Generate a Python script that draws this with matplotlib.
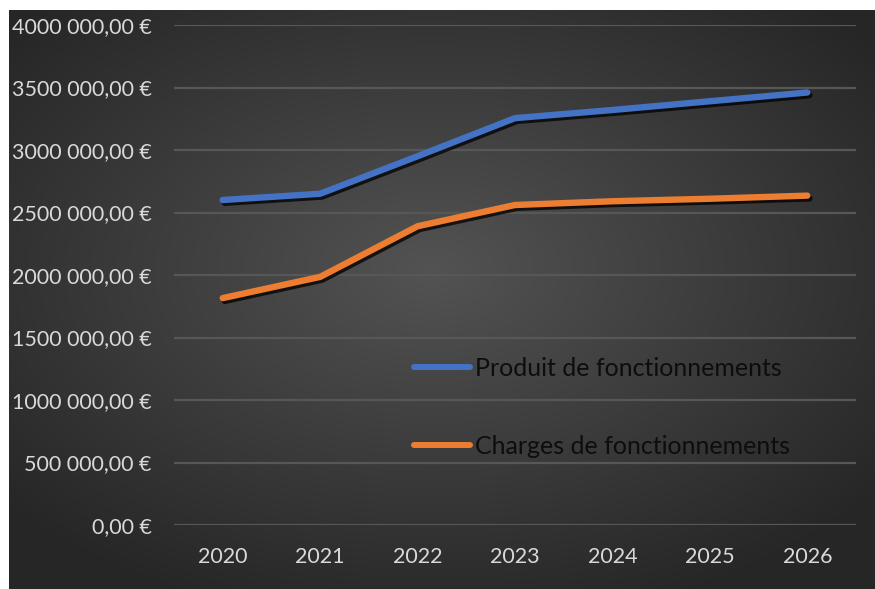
import numpy as np
import matplotlib
matplotlib.use("Agg")
import matplotlib.pyplot as plt
import matplotlib.patheffects as pe
from matplotlib.lines import Line2D
from matplotlib.ticker import FuncFormatter

years = ["2020", "2021", "2022", "2023", "2024", "2025", "2026"]
produits = [2600000, 2650000, 2950000, 3255000, 3320000, 3390000, 3460000]
charges = [1815000, 1985000, 2390000, 2560000, 2590000, 2610000, 2635000]
series_names = ["Produit de fonctionnements", "Charges de fonctionnements"]
y_ticks = [0, 500000, 1000000, 1500000, 2000000, 2500000, 3000000, 3500000, 4000000]

BLUE = "#4472C4"
ORANGE = "#ED7D31"
W, H = 875, 589

plt.rcParams["font.family"] = ["Lato", "DejaVu Sans"]

fig = plt.figure(figsize=(W / 100, H / 100), dpi=100)
fig.patch.set_facecolor("white")

# dark radial-gradient backdrop for the chart area
bg = fig.add_axes([9 / W, 0, 1 - 9 / W, 1 - 10 / H])
gx, gy = np.meshgrid(np.linspace(-1, 1, 400), np.linspace(-1, 1, 300))
r = np.sqrt(((gx + 0.02) * 0.95) ** 2 + ((gy + 0.1) * 1.0) ** 2)
r = np.clip(r / 1.25, 0, 1)
shade = 0.325 - 0.175 * r
bg.imshow(np.dstack([shade, shade, shade]), aspect="auto", extent=(0, 1, 0, 1))
bg.set_axis_off()

ax = fig.add_axes([174 / W, (H - 525) / H, (856 - 174) / W, 500 / H])
ax.set_facecolor("none")

x = np.arange(len(years))
shadow = [pe.SimpleLineShadow(offset=(1.5, -2.0), shadow_color="black", alpha=0.75),
          pe.Normal()]
for vals, col in [(produits, BLUE), (charges, ORANGE)]:
    ax.plot(x, vals, color=col, lw=4.6, solid_capstyle="round",
            solid_joinstyle="round", path_effects=shadow, zorder=3)

ax.set_xlim(-0.5, len(years) - 0.5)
ax.set_ylim(0, 4000000)
ax.set_yticks(y_ticks)
ax.set_xticks(x)
ax.set_xticklabels(years)


def euro(v, _pos):
    v = int(round(v))
    if v == 0:
        return "0,00 €"
    return f"{v // 1000} {v % 1000:03d},00 €"


ax.yaxis.set_major_formatter(FuncFormatter(euro))
ax.grid(axis="y", color="#575757", lw=1.6, zorder=1)
ax.set_axisbelow(True)
for s in ax.spines.values():
    s.set_visible(False)
ax.tick_params(axis="both", length=0, colors="#d9d9d9", labelsize=15.5)
ax.tick_params(axis="y", pad=16)
ax.tick_params(axis="x", pad=16)

handles = [Line2D([], [], color=BLUE, lw=4.3, solid_capstyle="round"),
           Line2D([], [], color=ORANGE, lw=4.3, solid_capstyle="round")]
leg = ax.legend(handles, series_names, loc="upper left",
                bbox_to_anchor=(414 / W, (H - 357) / H), bbox_transform=fig.transFigure,
                frameon=False, fontsize=18, labelcolor="#0d0d0d",
                handlelength=2.25, handletextpad=0.2, labelspacing=2.2,
                borderpad=0, borderaxespad=0)

fig.savefig("out.png", dpi=100)
